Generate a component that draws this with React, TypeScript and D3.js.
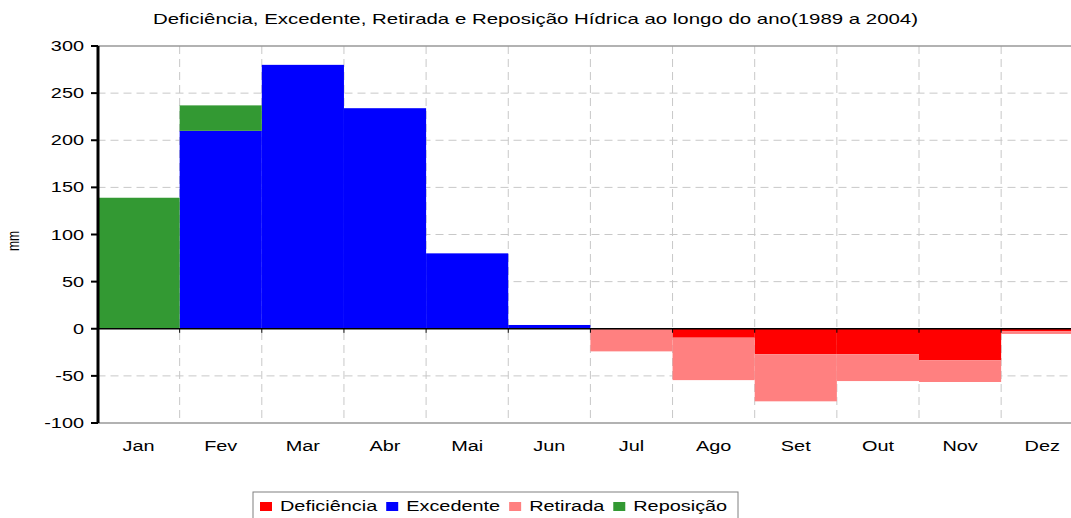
import React from 'react';
import * as d3 from 'd3';

const months = ['Jan', 'Fev', 'Mar', 'Abr', 'Mai', 'Jun', 'Jul', 'Ago', 'Set', 'Out', 'Nov', 'Dez'];
const deficiencia = [0, 0, 0, 0, 0, 0, 0, -9.5, -27, -27, -33.5, -2.5];
const excedente = [0, 210, 280, 234, 80, 4, 0, 0, 0, 0, 0, 0];
const retirada = [0, 0, 0, 0, 0, 0, -24, -45, -50, -28.5, -23, -3];
const reposicao = [139, 27, 0, 0, 0, 0, 0, 0, 0, 0, 0, 0];
const yTicks = [300, 250, 200, 150, 100, 50, 0, -50, -100];

const seriesNames = ['Deficiência', 'Excedente', 'Retirada', 'Reposição'];
const seriesColors = ['#ff0000', '#0000ff', '#ff8080', '#339933'];
const seriesValues = [deficiencia, excedente, retirada, reposicao];

const title = 'Deficiência, Excedente, Retirada e Reposição Hídrica ao longo do ano(1989 a 2004)';

const W = 1071;
const H = 518;
const SX = 1.42; // glyphs in the picture are stretched horizontally
const FONT = '"Liberation Sans", Arial, sans-serif';

// stretched text helper
const T = ({ x, y, anchor = 'start', size = 14, sx = SX, children, rotate = 0 }: any) => (
  <text
    transform={`translate(${x},${y}) scale(${sx},1)${rotate ? ` rotate(${rotate})` : ''}`}
    textAnchor={anchor}
    fontSize={size}
    fontFamily={FONT}
    fill="#000"
  >
    {children}
  </text>
);

export default function App() {
  const x = d3.scaleBand<string>().domain(months).range([97.5, 1083.3]).padding(0);
  const y = d3.scaleLinear().domain([-100, 300]).range([423, 46]);

  const table = months.map((m, i) => {
    const row: any = { month: m };
    seriesNames.forEach((s, k) => (row[s] = seriesValues[k][i]));
    return row;
  });
  const stacked = d3.stack<any>().keys(seriesNames).offset(d3.stackOffsetDiverging)(table);

  const left = x.range()[0];
  const right = x.range()[1];
  const bw = x.bandwidth();
  const boundaries = months.slice(1).map((m) => x(m) as number);

  // legend layout (widths in em, Arial metrics)
  const em = [4.89, 4.725, 3.779, 4.724];
  let lx = 260;
  const legendItems = seriesNames.map((s, i) => {
    const item = { s, i, x: lx };
    lx += 20 + em[i] * 14 * SX + 9;
    return item;
  });

  return (
    <svg width={W} height={H} style={{ position: 'absolute', left: 0, top: 0, background: '#fff' }}>
      <rect width={W} height={H} fill="#fff" />
      <T x={535.5} y={23.5} anchor="middle" size={14} sx={1.46}>{title}</T>

      {/* grid */}
      {yTicks.filter((t) => t !== 0 && t !== 300 && t !== -100).map((t) => (
        <line key={t} x1={left} x2={right} y1={y(t)} y2={y(t)} stroke="#c8c8c8" strokeDasharray="8,5" />
      ))}
      {boundaries.map((bx, i) => (
        <line key={i} x1={bx} x2={bx} y1={y(300)} y2={y(-100)} stroke="#c8c8c8" strokeDasharray="8,5" />
      ))}
      <line x1={left} x2={right} y1={y(300)} y2={y(300)} stroke="#999" strokeWidth={1.5} />
      <line x1={left} x2={right} y1={y(-100)} y2={y(-100)} stroke="#999" strokeWidth={1.5} />

      {/* bars */}
      {stacked.map((layer, k) => (
        <g key={layer.key} fill={seriesColors[k]}>
          {layer.map((d, i) => {
            const h = Math.abs(y(d[0]) - y(d[1]));
            if (h < 0.01) return null;
            return (
              <rect
                key={i}
                x={x(months[i])}
                y={Math.min(y(d[0]), y(d[1]))}
                width={bw}
                height={h}
              />
            );
          })}
        </g>
      ))}

      {/* zero line + ticks */}
      <line x1={left} x2={right} y1={y(0)} y2={y(0)} stroke="#000" strokeWidth={1.5} />
      {boundaries.map((bx, i) => (
        <line key={i} x1={bx} x2={bx} y1={y(0)} y2={y(0) + 4} stroke="#000" strokeWidth={1} />
      ))}

      {/* y axis */}
      <line x1={98} x2={98} y1={y(300)} y2={y(-100)} stroke="#000" strokeWidth={3} />
      {yTicks.map((t) => (
        <g key={t}>
          <line x1={91} x2={98} y1={y(t)} y2={y(t)} stroke="#000" strokeWidth={2} />
          <T x={84} y={y(t) + 5} anchor="end">{t}</T>
        </g>
      ))}
      <T x={19} y={241} anchor="middle" size={12} rotate={-90}>mm</T>

      {/* month labels */}
      {months.map((m) => (
        <T key={m} x={(x(m) as number) + bw / 2} y={451} anchor="middle">{m}</T>
      ))}

      {/* legend */}
      <rect x={253} y={492} width={485} height={32} fill="#fff" stroke="#808080" strokeWidth={1} />
      {legendItems.map(({ s, i, x: ix }) => (
        <g key={s}>
          <rect x={ix} y={502} width={12} height={9} fill={seriesColors[i]} />
          <T x={ix + 20} y={511}>{s}</T>
        </g>
      ))}
    </svg>
  );
}
